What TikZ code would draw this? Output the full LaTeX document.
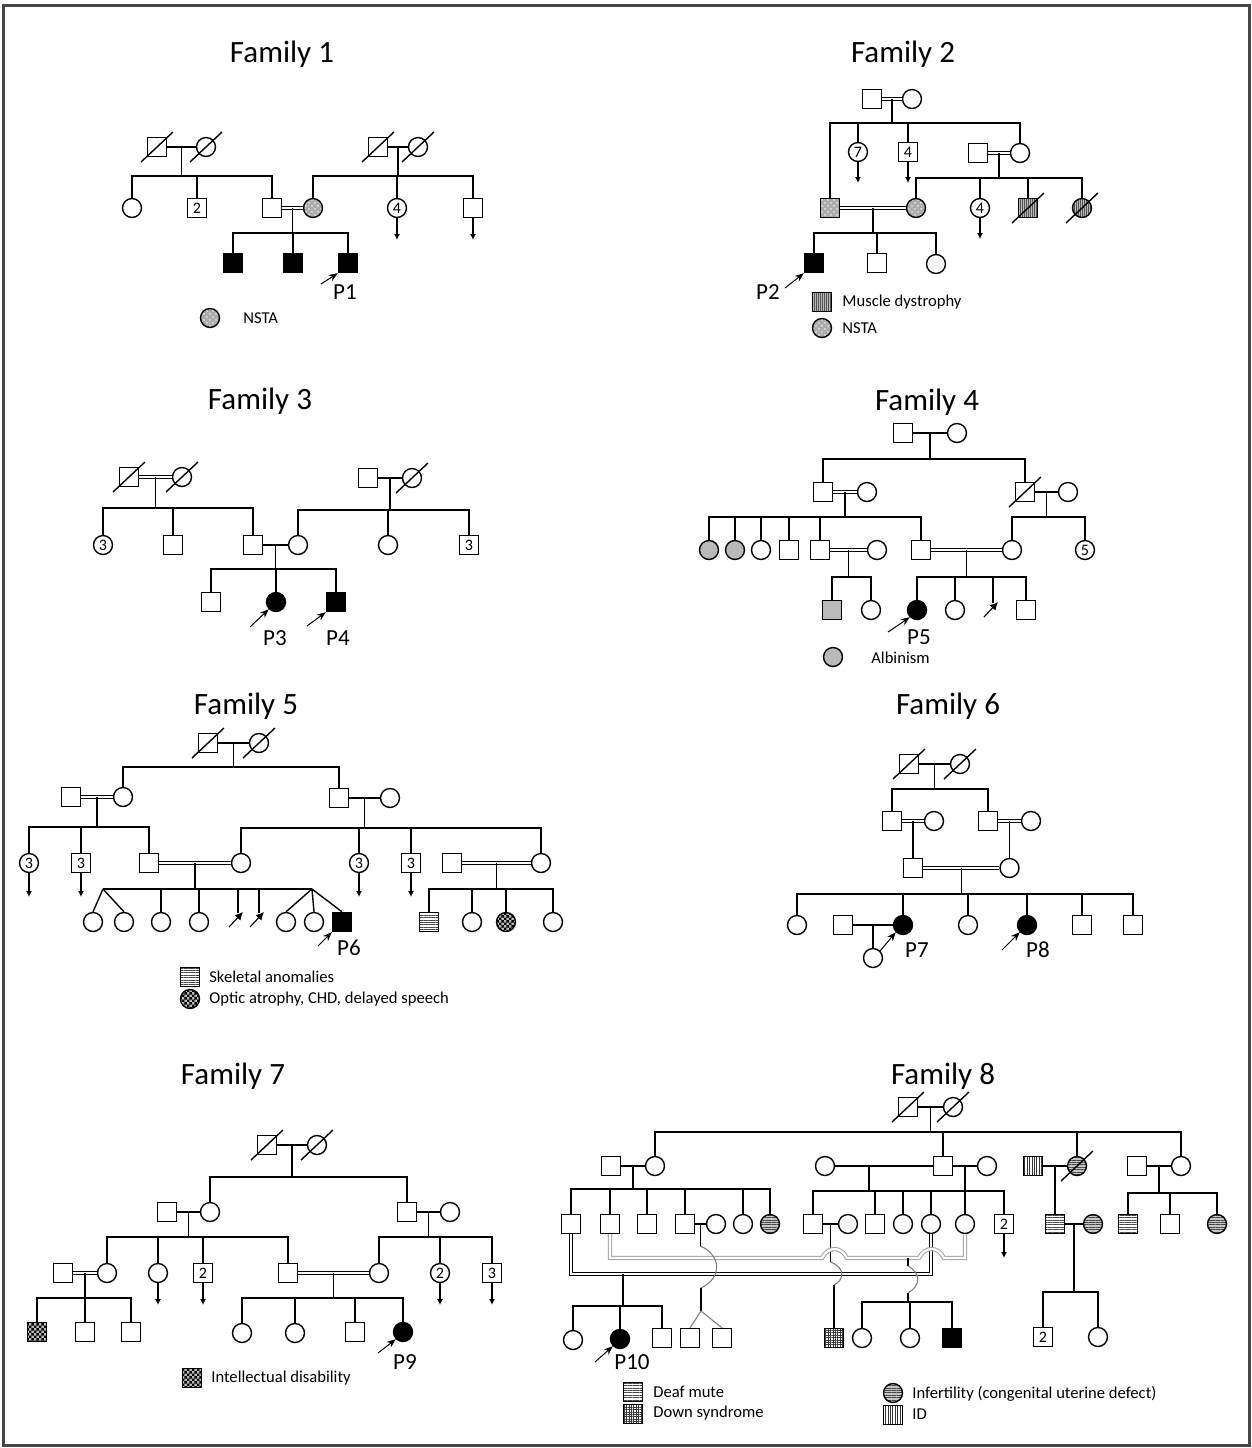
\documentclass[tikz,border=0pt]{standalone}
\usepackage{fontspec}
\setmainfont{Carlito}
\usetikzlibrary{calc,arrows.meta,patterns,patterns.meta}

\pgfdeclarepatternformonly{finecheck}{\pgfpointorigin}{\pgfpoint{2.4pt}{2.4pt}}{\pgfpoint{2.4pt}{2.4pt}}{%
  \pgfpathrectangle{\pgfpointorigin}{\pgfpoint{1.2pt}{1.2pt}}%
  \pgfpathrectangle{\pgfpoint{1.2pt}{1.2pt}}{\pgfpoint{1.2pt}{1.2pt}}%
  \pgfusepath{fill}}

\newcommand\numsz{\fontsize{8}{8}\selectfont}
\newcommand\deceased[1]{\draw ([shift={(-16,15)}]#1.center) -- ([shift={(16,-15)}]#1.center);}
\newcommand\mate[4][]{\draw[#1] (#2.east) -- (#3.west); \coordinate (#4) at ($(#2)!0.5!(#3)$);}
\newcommand\sibs[3]{\draw (#1) -- (#1 |- 0,#2); \foreach \k in {#3} {\draw (\k.north) |- (#1 |- 0,#2);}}
\newcommand\abortion[1]{\draw[abo] ([shift={(-9,13)}]#1.center) -- ([shift={(5,-2)}]#1.center);}

\begin{document}
\begin{tikzpicture}[
    x=0.5pt, y=-0.5pt, line width=0.7pt,
    male/.style={draw, rectangle, minimum size=9.5pt, inner sep=0pt, font=\numsz},
    female/.style={draw, circle, minimum size=9.5pt, inner sep=0pt, font=\numsz},
    aff/.style={fill=black},
    nsta/.style={preaction={fill=gray!65}, pattern=crosshatch dots, pattern color=gray!20},
    musc/.style={preaction={fill=gray!55}, pattern={Lines[angle=90,distance=1pt,line width=0.3pt]}, pattern color=gray!65!black},
    albino/.style={fill=gray!55},
    skel/.style={pattern={Lines[angle=0,distance=1.2pt,line width=0.35pt]}, pattern color=gray!55!black},
    chk/.style={preaction={fill=gray!55}, pattern=finecheck, pattern color=black},
    infert/.style={preaction={fill=gray!45}, pattern={Lines[angle=0,distance=1.2pt,line width=0.3pt]}, pattern color=gray!55!black},
    downsyn/.style={pattern={Hatch[angle=0,distance=1.2pt,line width=0.3pt]}, pattern color=gray!45!black},
    idis/.style={pattern={Lines[angle=90,distance=1.2pt,line width=0.35pt]}, pattern color=black!80},
    cons/.style={double, double distance=1.1pt, line width=0.5pt},
    more/.style={-{Latex[length=3pt,width=3pt]}},
    pro/.style={-{Stealth[length=4.5pt,width=3.5pt]}, line width=0.5pt},
    abo/.style={-{Latex[length=4pt,width=4pt]}, line width=0.55pt},
    stub/.style={inner sep=0pt, minimum size=0pt},
    famtitle/.style={font=\fontsize{15.5}{16}\selectfont},
    plab/.style={font=\fontsize{11.5}{12}\selectfont},
    leg/.style={font=\fontsize{8.3}{9}\selectfont, anchor=west},
    wave/.style={gray, line width=0.55pt},
  ]
  \fill[white] (0,0) rectangle (1252,1448);
  \useasboundingbox (0,0) rectangle (1252,1448);
  \draw[gray!55!black, line width=1.5pt] (3,5) rectangle (1249,1445);

  \node[famtitle] (t1) at (282,54) {Family 1};
  \node[male] (f1a) at (157,147) {};
  \node[female] (f1b) at (206,147) {};
  \node[male] (f1c) at (378,147) {};
  \node[female] (f1d) at (418,147) {};
  \node[female] (f1e) at (132,208) {};
  \node[male] (f1f) at (197,208) {2};
  \node[male] (f1g) at (272,208) {};
  \node[female,nsta] (f1h) at (313,208) {};
  \node[female] (f1i) at (397,208) {4};
  \node[male] (f1k) at (473,208) {};
  \node[male,aff] (f1l) at (233,263) {};
  \node[male,aff] (f1m) at (293,263) {};
  \node[male,aff] (f1n) at (348,263) {};
  \deceased{f1a}\deceased{f1b}\deceased{f1c}\deceased{f1d}
  \mate{f1a}{f1b}{f1j1}
  \mate{f1c}{f1d}{f1j2}
  \mate[cons]{f1g}{f1h}{f1j3}
  \sibs{f1j1}{176}{f1e,f1f,f1g}
  \sibs{f1j2}{176}{f1h,f1i,f1k}
  \sibs{f1j3}{233}{f1l,f1m,f1n}
  \draw[more] (f1i.south) -- (f1i |- 0,240);
  \draw[more] (f1k.south) -- (f1k |- 0,240);
  \node[plab] (f1p) at (345,292) {P1};
  \coordinate (f1pa) at (321,284);
  \draw[pro] (f1pa) -- (f1n.south west);
  \node[female,nsta] (f1x) at (210,318) {};
  \node[leg] (f1xt) at (236,318) {NSTA};

  \node[famtitle] (t2) at (903,54) {Family 2};
  \node[male] (f2a) at (872,99) {};
  \node[female] (f2b) at (912,99) {};
  \node[female] (f2c) at (858,152) {7};
  \node[male] (f2d) at (908,152) {4};
  \node[male] (f2e) at (978,153) {};
  \node[female] (f2f) at (1020,153) {};
  \node[male,nsta] (f2g) at (830,208) {};
  \node[female,nsta] (f2h) at (916,208) {};
  \node[female] (f2i) at (980,208) {4};
  \node[male,musc] (f2k) at (1028,208) {};
  \node[female,musc] (f2l) at (1082,208) {};
  \node[male,aff] (f2m) at (814,263) {};
  \node[male] (f2n) at (877,263) {};
  \node[female] (f2o) at (936,264) {};
  \deceased{f2k}\deceased{f2l}
  \mate[cons]{f2a}{f2b}{f2j1}
  \mate[cons]{f2e}{f2f}{f2j2}
  \mate[cons]{f2g}{f2h}{f2j3}
  \sibs{f2j1}{123}{f2g,f2c,f2d,f2f}
  \sibs{f2j2}{178}{f2h,f2i,f2k,f2l}
  \sibs{f2j3}{233}{f2m,f2n,f2o}
  \draw[more] (f2c.south) -- (f2c |- 0,183);
  \draw[more] (f2d.south) -- (f2d |- 0,183);
  \draw[more] (f2i.south) -- (f2i |- 0,239);
  \node[plab] (f2p) at (768,292) {P2};
  \coordinate (f2pa) at (785,288);
  \draw[pro] (f2pa) -- (f2m.south west);
  \node[male,musc] (f2x) at (822,302) {};
  \node[leg] (f2xt) at (835,302) {Muscle dystrophy};
  \node[female,nsta] (f2y) at (822,328) {};
  \node[leg] (f2yt) at (835,328) {NSTA};

  \node[famtitle] (t3) at (260,401) {Family 3};
  \node[male] (f3a) at (129,477) {};
  \node[female] (f3b) at (182,477) {};
  \node[male] (f3c) at (368,478) {};
  \node[female] (f3d) at (412,478) {};
  \node[female] (f3e) at (103,545) {3};
  \node[male] (f3f) at (173,545) {};
  \node[male] (f3g) at (253,545) {};
  \node[female] (f3h) at (298,545) {};
  \node[female] (f3i) at (388,545) {};
  \node[male] (f3k) at (469,545) {3};
  \node[male] (f3l) at (211,602) {};
  \node[female,aff] (f3m) at (276,602) {};
  \node[male,aff] (f3n) at (336,602) {};
  \deceased{f3a}\deceased{f3b}\deceased{f3d}
  \mate[cons]{f3a}{f3b}{f3j1}
  \mate{f3c}{f3d}{f3j2}
  \mate{f3g}{f3h}{f3j3}
  \sibs{f3j1}{508}{f3e,f3f,f3g}
  \sibs{f3j2}{510}{f3h,f3i,f3k}
  \sibs{f3j3}{569}{f3l,f3m,f3n}
  \node[plab] (f3p) at (275,638) {P3};
  \coordinate (f3pa) at (250,627);
  \draw[pro] (f3pa) -- (f3m.south west);
  \node[plab] (f3q) at (338,638) {P4};
  \coordinate (f3qa) at (307,626);
  \draw[pro] (f3qa) -- (f3n.south west);

  \node[famtitle] (t4) at (927,402) {Family 4};
  \node[male] (f4a) at (903,433) {};
  \node[female] (f4b) at (957,433) {};
  \node[male] (f4c) at (823,492) {};
  \node[female] (f4d) at (867,492) {};
  \node[male] (f4e) at (1025,492) {};
  \node[female] (f4f) at (1068,492) {};
  \node[female,albino] (f4g) at (709,550) {};
  \node[female,albino] (f4h) at (735,550) {};
  \node[female] (f4i) at (761,550) {};
  \node[male] (f4k) at (789,550) {};
  \node[male] (f4l) at (820,550) {};
  \node[female] (f4m) at (877,550) {};
  \node[male] (f4n) at (921,550) {};
  \node[female] (f4o) at (1012,550) {};
  \node[female] (f4q) at (1085,550) {5};
  \node[male,albino] (f4r) at (832,610) {};
  \node[female] (f4s) at (871,610) {};
  \node[female,aff] (f4t) at (917,610) {};
  \node[female] (f4u) at (955,610) {};
  \node[stub] (f4v) at (993,604) {};
  \node[male] (f4w) at (1026,610) {};
  \deceased{f4e}
  \mate{f4a}{f4b}{f4j1}
  \mate[cons]{f4c}{f4d}{f4j2}
  \mate{f4e}{f4f}{f4j3}
  \mate[cons]{f4l}{f4m}{f4j4}
  \mate[cons]{f4n}{f4o}{f4j5}
  \sibs{f4j1}{459}{f4c,f4e}
  \sibs{f4j2}{517}{f4g,f4h,f4i,f4k,f4l,f4n}
  \sibs{f4j3}{517}{f4o,f4q}
  \sibs{f4j4}{577}{f4r,f4s}
  \sibs{f4j5}{577}{f4t,f4u,f4v,f4w}
  \abortion{f4v}
  \node[plab] (f4p) at (919,637) {P5};
  \coordinate (f4pa) at (888,632);
  \draw[pro] (f4pa) -- (f4t.south west);
  \node[female,albino] (f4x) at (833,657) {};
  \node[leg] (f4xt) at (864,658) {Albinism};

  \node[famtitle] (t5) at (246,706) {Family 5};
  \node[male] (f5a) at (208,743) {};
  \node[female] (f5b) at (259,743) {};
  \node[male] (f5c) at (71,797) {};
  \node[female] (f5d) at (123,797) {};
  \node[male] (f5e) at (339,798) {};
  \node[female] (f5f) at (390,798) {};
  \node[female] (f5g) at (29,863) {3};
  \node[male] (f5h) at (81,863) {3};
  \node[male] (f5i) at (149,863) {};
  \node[female] (f5k) at (241,863) {};
  \node[female] (f5l) at (359,863) {3};
  \node[male] (f5m) at (411,863) {3};
  \node[male] (f5n) at (452,863) {};
  \node[female] (f5o) at (541,863) {};
  \node[female] (f5r) at (93,922) {};
  \node[female] (f5s) at (124,922) {};
  \node[female] (f5t) at (161,922) {};
  \node[female] (f5u) at (199,922) {};
  \node[stub] (f5v) at (238,914) {};
  \node[stub] (f5w) at (259,914) {};
  \node[female] (f5x) at (286,922) {};
  \node[female] (f5y) at (314,922) {};
  \node[male,aff] (f5z) at (342,922) {};
  \node[male,skel] (f5aa) at (429,922) {};
  \node[female] (f5ab) at (472,922) {};
  \node[female,chk] (f5ac) at (506,922) {};
  \node[female] (f5ad) at (553,922) {};
  \deceased{f5a}\deceased{f5b}
  \mate{f5a}{f5b}{f5j1}
  \mate[cons]{f5c}{f5d}{f5j2}
  \mate{f5e}{f5f}{f5j3}
  \mate[cons]{f5i}{f5k}{f5j4}
  \mate[cons]{f5n}{f5o}{f5j5}
  \sibs{f5j1}{767}{f5d,f5e}
  \sibs{f5j2}{827}{f5g,f5h,f5i}
  \sibs{f5j3}{828}{f5k,f5l,f5m,f5o}
  \coordinate (f5tw1) at (103,889);
  \coordinate (f5tw2) at (312,889);
  \draw (f5tw1) -- (f5tw2);
  \draw (f5j4) -- (f5j4 |- f5tw1);
  \foreach \k in {f5r,f5s} {\draw (f5tw1) -- (\k.north);}
  \foreach \k in {f5t,f5u,f5v,f5w} {\draw (\k.north) -- (\k.north |- f5tw1);}
  \foreach \k in {f5x,f5y,f5z} {\draw (f5tw2) -- (\k.north);}
  \abortion{f5v}\abortion{f5w}
  \sibs{f5j5}{889}{f5aa,f5ab,f5ac,f5ad}
  \draw[more] (f5g.south) -- (f5g |- 0,897);
  \draw[more] (f5h.south) -- (f5h |- 0,897);
  \draw[more] (f5l.south) -- (f5l |- 0,897);
  \draw[more] (f5m.south) -- (f5m |- 0,897);
  \node[plab] (f5p) at (349,948) {P6};
  \coordinate (f5pa) at (318,946);
  \draw[pro] (f5pa) -- (f5z.south west);
  \node[male,skel] (f5lg1) at (190,977) {};
  \node[leg] (f5lt1) at (202,977) {Skeletal anomalies};
  \node[female,chk] (f5lg2) at (190,999) {};
  \node[leg] (f5lt2) at (202,999) {Optic atrophy, CHD, delayed speech};

  \node[famtitle] (t6) at (948,706) {Family 6};
  \node[male] (f6a) at (909,764) {};
  \node[female] (f6b) at (960,764) {};
  \node[male] (f6c) at (892,821) {};
  \node[female] (f6d) at (934,821) {};
  \node[male] (f6e) at (988,821) {};
  \node[female] (f6f) at (1031,821) {};
  \node[male] (f6g) at (913,868) {};
  \node[female] (f6h) at (1009.5,868) {};
  \node[female] (f6i) at (797,925) {};
  \node[male] (f6q) at (843,925) {};
  \node[female,aff] (f6k) at (903,925) {};
  \node[female] (f6l) at (968,925) {};
  \node[female,aff] (f6m) at (1027,925) {};
  \node[male] (f6n) at (1082,925) {};
  \node[male] (f6o) at (1133,925) {};
  \node[female] (f6r) at (873,958) {};
  \deceased{f6a}\deceased{f6b}
  \mate{f6a}{f6b}{f6j1}
  \mate[cons]{f6c}{f6d}{f6j2}
  \mate[cons]{f6e}{f6f}{f6j3}
  \mate[cons]{f6g}{f6h}{f6j4}
  \mate{f6q}{f6k}{f6j5}
  \sibs{f6j1}{789}{f6c,f6e}
  \draw (f6j2) -- (f6g.north);
  \draw (f6j3) -- (f6h.north);
  \sibs{f6j4}{894}{f6i,f6k,f6l,f6m,f6n,f6o}
  \draw (f6j5) -- (f6r.north);
  \node[plab] (f6p) at (917,950) {P7};
  \coordinate (f6pa) at (880,951);
  \draw[pro] (f6pa) -- (f6k.south west);
  \node[plab] (f6s) at (1038,950) {P8};
  \coordinate (f6sa) at (1002,950);
  \draw[pro] (f6sa) -- (f6m.south west);

  \node[famtitle] (t7) at (233,1076) {Family 7};
  \node[male] (f7a) at (267,1145) {};
  \node[female] (f7b) at (317,1145) {};
  \node[male] (f7c) at (167,1212) {};
  \node[female] (f7d) at (210,1212) {};
  \node[male] (f7e) at (407,1212) {};
  \node[female] (f7f) at (450,1212) {};
  \node[male] (f7g) at (63,1273) {};
  \node[female] (f7h) at (107,1273) {};
  \node[female] (f7i) at (158,1273) {};
  \node[male] (f7k) at (203,1273) {2};
  \node[male] (f7l) at (288,1273) {};
  \node[female] (f7m) at (379,1273) {};
  \node[female] (f7n) at (440,1273) {2};
  \node[male] (f7o) at (492,1273) {3};
  \node[male,chk] (f7q) at (37,1332) {};
  \node[male] (f7r) at (85,1332) {};
  \node[male] (f7s) at (131,1332) {};
  \node[female] (f7t) at (242,1333) {};
  \node[female] (f7u) at (295,1333) {};
  \node[male] (f7v) at (355,1332) {};
  \node[female,aff] (f7w) at (403,1332) {};
  \deceased{f7a}\deceased{f7b}
  \mate{f7a}{f7b}{f7j1}
  \mate{f7c}{f7d}{f7j2}
  \mate{f7e}{f7f}{f7j3}
  \mate[cons]{f7g}{f7h}{f7j4}
  \mate[cons]{f7l}{f7m}{f7j5}
  \sibs{f7j1}{1177}{f7d,f7e}
  \sibs{f7j2}{1237}{f7h,f7i,f7k,f7l}
  \sibs{f7j3}{1237}{f7m,f7n,f7o}
  \sibs{f7j4}{1298}{f7q,f7r,f7s}
  \sibs{f7j5}{1298}{f7t,f7u,f7v,f7w}
  \draw[more] (f7i.south) -- (f7i |- 0,1305);
  \draw[more] (f7k.south) -- (f7k |- 0,1305);
  \draw[more] (f7n.south) -- (f7n |- 0,1305);
  \draw[more] (f7o.south) -- (f7o |- 0,1305);
  \node[plab] (f7p) at (405,1362) {P9};
  \coordinate (f7pa) at (378,1353);
  \draw[pro] (f7pa) -- (f7w.south west);
  \node[male,chk] (f7lg) at (192,1378) {};
  \node[leg] (f7lt) at (204,1378) {Intellectual disability};

  \node[famtitle] (t8) at (943,1076) {Family 8};
  \node[male] (f8a) at (908,1107) {};
  \node[female] (f8b) at (953,1107) {};
  \node[male] (f8c) at (611,1166) {};
  \node[female] (f8d) at (655,1166) {};
  \node[female] (f8e) at (825,1166) {};
  \node[male] (f8f) at (943,1166) {};
  \node[female] (f8g) at (987,1166) {};
  \node[male,idis] (f8h) at (1033,1166) {};
  \node[female,infert] (f8i) at (1077,1166) {};
  \node[male] (f8k) at (1137,1166) {};
  \node[female] (f8l) at (1181,1166) {};
  \node[male] (f8m) at (571,1224) {};
  \node[male] (f8n) at (610,1224) {};
  \node[male] (f8o) at (647,1224) {};
  \node[male] (f8p) at (685,1224) {};
  \node[female] (f8q) at (716,1224) {};
  \node[female] (f8r) at (743,1224) {};
  \node[female,infert] (f8s) at (770,1224) {};
  \node[male] (f8t) at (813,1224) {};
  \node[female] (f8u) at (848,1224) {};
  \node[male] (f8v) at (875,1224) {};
  \node[female] (f8w) at (903,1224) {};
  \node[female] (f8x) at (931,1224) {};
  \node[female] (f8y) at (965,1224) {};
  \node[male] (f8z) at (1004,1224) {2};
  \node[male,skel] (f8aa) at (1055,1224) {};
  \node[female,infert] (f8ab) at (1093,1224) {};
  \node[male,skel] (f8ae) at (1128,1224) {};
  \node[male] (f8af) at (1170,1224) {};
  \node[female,infert] (f8ag) at (1217,1224) {};
  \node[female] (f8ah) at (573,1340) {};
  \node[female,aff] (f8ai) at (620,1339) {};
  \node[male] (f8ak) at (662,1338) {};
  \node[male] (f8al) at (690,1338) {};
  \node[male] (f8am) at (722,1338) {};
  \node[male,downsyn] (f8an) at (834,1338) {};
  \node[female] (f8ao) at (862,1338) {};
  \node[female] (f8ap) at (910,1338) {};
  \node[male,aff] (f8aq) at (952,1338) {};
  \node[male] (f8ac) at (1043,1337) {2};
  \node[female] (f8ad) at (1098,1337) {};
  \deceased{f8a}\deceased{f8b}\deceased{f8i}
  \mate{f8a}{f8b}{f8j1}
  \mate{f8c}{f8d}{f8j2}
  \draw (f8e.east) -- (f8f.west);
  \coordinate (f8j3) at (869,1166);
  \mate{f8f}{f8g}{f8j4}
  \mate{f8h}{f8i}{f8j5}
  \mate{f8k}{f8l}{f8j6}
  \mate{f8aa}{f8ab}{f8j7}
  \mate{f8p}{f8q}{f8j9}
  \mate{f8t}{f8u}{f8j10}
  \sibs{f8j1}{1132}{f8d,f8f,f8i,f8l}
  \sibs{f8j2}{1189}{f8m,f8n,f8o,f8p,f8r,f8s}
  \sibs{f8j3}{1191}{f8t,f8v,f8w,f8x}
  \sibs{f8j4}{1191}{f8x,f8y,f8z}
  \sibs{f8j6}{1193}{f8ae,f8af,f8ag}
  \draw (f8j5) -- (f8aa.north);
  \sibs{f8j7}{1292}{f8ac,f8ad}
  \draw[more] (f8z.south) -- (f8z |- 0,1258);
  \draw[cons] (f8m.south) -- (f8m.south |- 0,1274) -- (f8x.south |- 0,1274) -- (f8x.south);
  \coordinate (f8j8) at (623,1274);
  \sibs{f8j8}{1306}{f8ah,f8ai,f8ak}
  \draw (f8j10) -- (830.5,1262);
  \draw[cons, draw=gray!75] (f8n.south) |- (822,1258) .. controls (828,1246) and (841,1246) .. (847,1258) -- (919,1258) .. controls (925,1246) and (938,1246) .. (944,1258) -| (f8y.south);
  \coordinate (f8j11) at (908,1258);
  \draw (f8j11) -- (908,1266);
  \draw[wave] (908,1266) .. controls (922,1274) and (920,1286) .. (908,1293);
  \coordinate (f8j12) at (908,1293);
  \sibs{f8j12}{1302}{f8ao,f8ap,f8aq}
  \draw (f8j9) -- (700.5,1246);
  \draw[wave] (700.5,1246) .. controls (722,1256) and (722,1278) .. (701,1288);
  \coordinate (f8tw) at (701,1311);
  \draw (701,1288) -- (f8tw);
  \draw[wave] (f8tw) -- (f8al.north);
  \draw[wave] (f8tw) -- (f8am.north);
  \draw[wave] (830.5,1262) .. controls (846,1268) and (844,1280) .. (834,1285);
  \draw (834,1285) -- (f8an.north);
  \node[plab] (f8pl) at (632,1362) {P10};
  \coordinate (f8pa) at (595,1362);
  \draw[pro] (f8pa) -- (f8ai.south west);
  \node[male,skel] (f8lg1) at (633,1392) {};
  \node[leg] (f8lt1) at (646,1392) {Deaf mute};
  \node[male,downsyn] (f8lg2) at (633,1414) {};
  \node[leg] (f8lt2) at (646,1413) {Down syndrome};
  \node[female,infert] (f8lg3) at (893,1393) {};
  \node[leg] (f8lt3) at (905,1394) {Infertility (congenital uterine defect)};
  \node[male,idis] (f8lg4) at (893,1415) {};
  \node[leg] (f8lt4) at (905,1414) {ID};
\end{tikzpicture}
\end{document}
